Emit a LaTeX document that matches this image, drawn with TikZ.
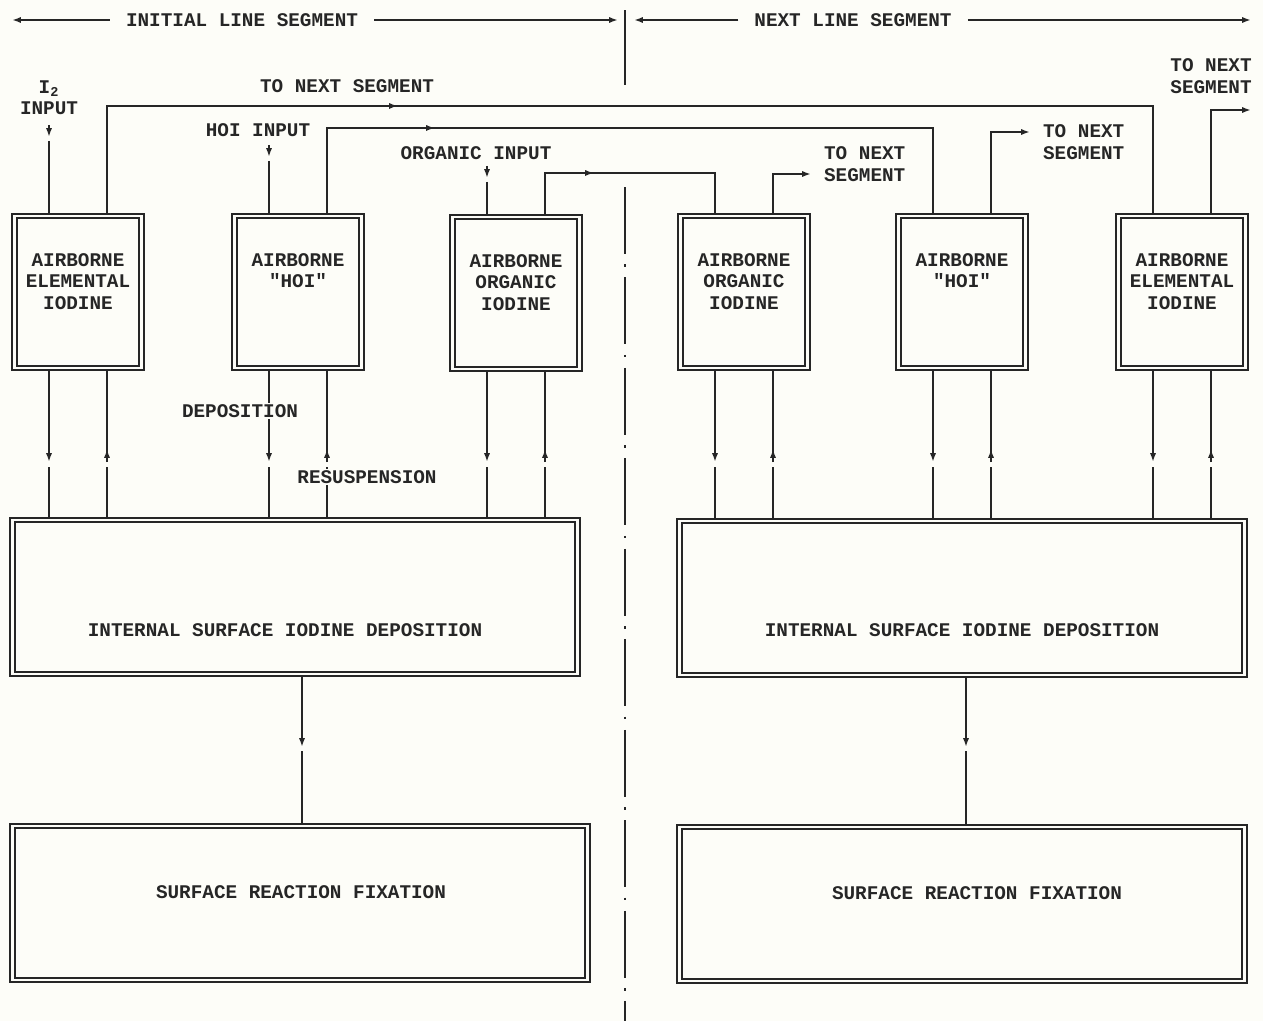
\documentclass[tikz,border=0pt]{standalone}
\usepackage{fontspec}
\newfontfamily\typefont{Liberation Mono}
\usepackage{xcolor}
\definecolor{paper}{RGB}{253,253,248}
\colorlet{inkc}{black!85}
\usetikzlibrary{arrows.meta, positioning, calc, decorations.markings}

\begin{document}
\begin{tikzpicture}[x=0.02cm, y=-0.02cm,
	every node/.style={text=inkc, font=\typefont\bfseries\fontsize{11}{12.2}\selectfont},
	line/.style={draw=inkc, line width=1.1pt},
	tip/.style={line, -{Latex[length=5pt,width=3.5pt]}},
	flow/.style={line, postaction={decorate}, decoration={markings, mark=at position #1 with {\arrow{Latex[length=5pt,width=3.5pt]}}}},
	airbox/.style={draw=inkc, line width=1.2pt, double=paper, double distance=1.5pt, minimum width=2.54cm, minimum height=3.04cm, inner sep=0pt},
	bigbox/.style={airbox, minimum width=11.3cm, minimum height=3.08cm},
	boxtext/.style={align=center, anchor=north, inner sep=0pt},
	note/.style={align=center, inner sep=1pt},
	gapnote/.style={fill=paper, inner sep=1pt},
	hdr/.style={inner xsep=9pt},
	divider/.style={draw=inkc, line width=1.3pt}
]
	\fill[paper] (0,0) rectangle (1263,1021);
	\useasboundingbox (0,0) rectangle (1263,1021);

	% segment headings and divider
	\node[hdr] (hdrL) at (242,20) {INITIAL LINE SEGMENT};
	\node[hdr] (hdrR) at (853,20) {NEXT LINE SEGMENT};
	\coordinate (hdrLa) at (12,20);
	\coordinate (hdrLb) at (618,20);
	\coordinate (hdrRa) at (634,20);
	\coordinate (hdrRb) at (1251,20);
	\draw[tip] (hdrL.west) -- (hdrLa);
	\draw[tip] (hdrL.east) -- (hdrLb);
	\draw[tip] (hdrR.west) -- (hdrRa);
	\draw[tip] (hdrR.east) -- (hdrRb);
	\draw[divider] (625,10) -- (625,85);
	\draw[divider, dash pattern=on 38pt off 6pt on 1.5pt off 6pt] (625,187) -- (625,1021);

	% airborne compartments
	\node[airbox] (elemL) at (78,292) {};
	\node[airbox] (hoiL) at (298,292) {};
	\node[airbox] (orgL) at (516,293) {};
	\node[airbox] (orgR) at (744,292) {};
	\node[airbox] (hoiR) at (962,292) {};
	\node[airbox] (elemR) at (1182,292) {};
	\node[boxtext] (elemLt) at ($(elemL.north)+(0,38)$) {AIRBORNE\\ELEMENTAL\\IODINE};
	\node[boxtext] (hoiLt) at ($(hoiL.north)+(0,38)$) {AIRBORNE\\"HOI"};
	\node[boxtext] (orgLt) at ($(orgL.north)+(0,38)$) {AIRBORNE\\ORGANIC\\IODINE};
	\node[boxtext] (orgRt) at ($(orgR.north)+(0,38)$) {AIRBORNE\\ORGANIC\\IODINE};
	\node[boxtext] (hoiRt) at ($(hoiR.north)+(0,38)$) {AIRBORNE\\"HOI"};
	\node[boxtext] (elemRt) at ($(elemR.north)+(0,38)$) {AIRBORNE\\ELEMENTAL\\IODINE};

	% surface compartments
	\node[bigbox] (depL) at (295,597) {};
	\node[bigbox] (depR) at (962,598) {};
	\node (depLt) at ($(depL)+(-10,33)$) {INTERNAL SURFACE IODINE DEPOSITION};
	\node (depRt) at ($(depR)+(0,32)$) {INTERNAL SURFACE IODINE DEPOSITION};
	\node[bigbox, minimum width=11.5cm] (fixL) at (300,903) {};
	\node[bigbox] (fixR) at (962,904) {};
	\node (fixLt) at ($(fixL)+(1,-11)$) {SURFACE REACTION FIXATION};
	\node (fixRt) at ($(fixR)+(15,-11)$) {SURFACE REACTION FIXATION};

	% inputs
	\node[note] (inI2) at (49,98) {I\textsubscript{2}\\INPUT};
	\draw[tip] ($(elemL.north)+(-29,-90)$) -- ($(elemL.north)+(-29,-78)$);
	\draw[line] ($(elemL.north)+(-29,-74)$) -- ($(elemL.north)+(-29,0)$);
	\node[note] (inHoi) at (258,130) {HOI INPUT};
	\draw[tip] ($(hoiL.north)+(-29,-70)$) -- ($(hoiL.north)+(-29,-58)$);
	\draw[line] ($(hoiL.north)+(-29,-54)$) -- ($(hoiL.north)+(-29,0)$);
	\node[note] (inOrg) at (476,153) {ORGANIC INPUT};
	\draw[tip] ($(orgL.north)+(-29,-50)$) -- ($(orgL.north)+(-29,-38)$);
	\draw[line] ($(orgL.north)+(-29,-34)$) -- ($(orgL.north)+(-29,0)$);

	% carry-over to the next segment
	\node[note] (nextTop) at (347,86) {TO NEXT SEGMENT};
	\draw[flow=8cm] ($(elemL.north)+(29,0)$) -- ++(0,-109) -| ($(elemR.north)+(-29,0)$);
	\draw[flow=3.9cm] ($(hoiL.north)+(29,0)$) -- ++(0,-87) -| ($(hoiR.north)+(-29,0)$);
	\draw[flow=1.84cm] ($(orgL.north)+(29,0)$) -- ++(0,-43) -| ($(orgR.north)+(-29,0)$);
	\coordinate (outOrg) at (811,174);
	\coordinate (outHoi) at (1030,132);
	\coordinate (outElem) at (1251,110);
	\draw[tip] ($(orgR.north)+(29,0)$) |- (outOrg);
	\draw[tip] ($(hoiR.north)+(29,0)$) |- (outHoi);
	\draw[tip] ($(elemR.north)+(29,0)$) |- (outElem);
	\node[note, anchor=west] (outOrgL) at (822,164) {TO NEXT\\SEGMENT};
	\node[note, anchor=west] (outHoiL) at (1041,142) {TO NEXT\\SEGMENT};
	\node[note] (outElemL) at (1211,76) {TO NEXT\\SEGMENT};

	% deposition and resuspension
	\foreach \src/\dst in {elemL/depL, hoiL/depL, orgL/depL, orgR/depR, hoiR/depR, elemR/depR} {
		\coordinate (dn) at ($(\src.south)+(-29,0)$);
		\coordinate (up) at ($(\src.south)+(29,0)$);
		\draw[tip] (dn) -- (dn |- 0,462);
		\draw[line] (dn |- 0,467) -- (dn |- \dst.north);
		\draw[line] (up |- \dst.north) -- (up |- 0,467);
		\draw[flow=0.26cm] (up |- 0,462) -- (up);
	}
	\node[gapnote] (depo) at (240,411) {DEPOSITION};
	\node[gapnote] (resus) at (367,477) {RESUSPENSION};

	% fixation
	\coordinate (gapL) at (302,749);
	\coordinate (gapR) at (966,749);
	\draw[tip] (depL.south -| gapL) -- ($(gapL)+(0,-2)$);
	\draw[line] ($(gapL)+(0,2)$) -- (fixL.north -| gapL);
	\draw[tip] (depR.south -| gapR) -- ($(gapR)+(0,-2)$);
	\draw[line] ($(gapR)+(0,2)$) -- (fixR.north -| gapR);
\end{tikzpicture}
\end{document}
